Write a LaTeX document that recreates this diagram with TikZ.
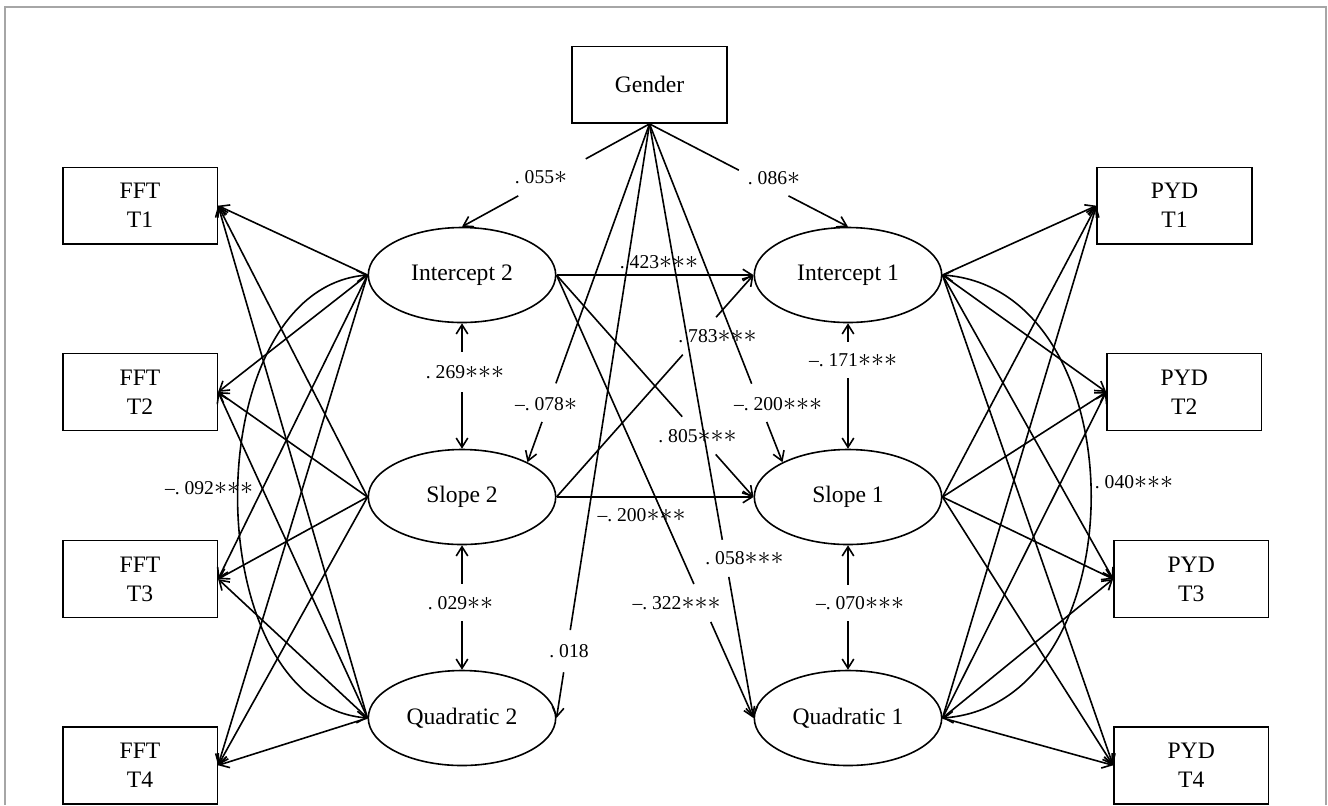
\documentclass[tikz,border=0pt]{standalone}
\usepackage{fontspec}
\setmainfont{Liberation Serif}
\usetikzlibrary{arrows.meta,calc,shapes.geometric}
\newcommand\sgst{\scalebox{1.3}{$\mathord{\ast}$}}
\tikzset{
  arr/.style={-{Straight Barb[length=4.6pt,width=5.8pt]}},
  rarr/.style={{Straight Barb[length=4.6pt,width=5.8pt]}-},
  darr/.style={{Straight Barb[length=4.6pt,width=5.8pt]}-{Straight Barb[length=4.6pt,width=5.8pt]}},
  obs/.style={draw, rectangle, minimum width=77.3pt, minimum height=38.4pt, inner sep=0pt,
    align=center, font=\fontsize{11.8}{14.5}\selectfont},
  lat/.style={draw, ellipse, minimum width=93.7pt, minimum height=47.5pt, inner sep=0pt,
    font=\fontsize{11.8}{14.5}\selectfont},
  lbl/.style={inner sep=0pt, font=\fontsize{9.8}{11}\selectfont},
}
\begin{document}
\begin{tikzpicture}[x=0.5pt,y=-0.5pt,line width=0.8pt]
\useasboundingbox (0,0) rectangle (1328,805);
\fill[white] (0,0) rectangle (1328,805);
\draw[black!35, line width=0.75pt] (5,805) -- (5,7) -- (1326,7) -- (1326,805);

% observed
\node[obs] (gender) at (649.5,84.7) {Gender};
\node[obs] (fft1) at (140,205.7) {FFT\\T1};
\node[obs] (fft2) at (140,392) {FFT\\T2};
\node[obs] (fft3) at (140,579) {FFT\\T3};
\node[obs] (fft4) at (140,765.3) {FFT\\T4};
\node[obs] (pyd1) at (1174.5,205.7) {PYD\\T1};
\node[obs] (pyd2) at (1184.3,392) {PYD\\T2};
\node[obs] (pyd3) at (1191.2,579) {PYD\\T3};
\node[obs] (pyd4) at (1191.2,765.3) {PYD\\T4};

% latent
\node[lat] (int2) at (462,275) {Intercept 2};
\node[lat] (slope2) at (462,497) {Slope 2};
\node[lat] (quad2) at (462,718) {Quadratic 2};
\node[lat] (int1) at (848,275) {Intercept 1};
\node[lat] (slope1) at (848,497) {Slope 1};
\node[lat] (quad1) at (848,718) {Quadratic 1};

% loadings
\foreach \s in {int2,slope2,quad2}
  \foreach \t in {fft1,fft2,fft3,fft4}
    \draw[arr] (\s.west) -- (\t.east);
\foreach \s in {int1,slope1,quad1}
  \foreach \t in {pyd1,pyd2,pyd3,pyd4}
    \draw[arr] (\s.east) -- (\t.west);

% covariance arcs
\draw[darr] (int2.west) .. controls (195,290) and (195,703) .. (quad2.west);
\draw[darr] (int1.east) .. controls (1140,290) and (1140,703) .. (quad1.east);
\node[lbl] (l092) at (209,488) {–.\ 092\sgst\sgst\sgst};
\node[lbl] (l040) at (1134,482) {.\ 040\sgst\sgst\sgst};

% labels
\node[lbl] (l055) at (541,177) {.\ 055\sgst};
\node[lbl] (l086) at (774,178) {.\ 086\sgst};
\node[lbl] (l078) at (546,404) {–.\ 078\sgst};
\node[lbl] (l200a) at (778,404) {–.\ 200\sgst\sgst\sgst};
\node[lbl] (l058) at (744.5,558) {.\ 058\sgst\sgst\sgst};
\node[lbl] (l018) at (569,651) {.\ 018};
\node[lbl] (l805) at (697.5,436) {.\ 805\sgst\sgst\sgst};
\node[lbl] (l322) at (676.5,603) {–.\ 322\sgst\sgst\sgst};
\node[lbl] (l783) at (717.5,336) {.\ 783\sgst\sgst\sgst};
\node[lbl] (l423) at (659,262) {.\ 423\sgst\sgst\sgst};
\node[lbl] (l200b) at (641.5,515) {–.\ 200\sgst\sgst\sgst};
\node[lbl] (l269) at (465,372) {.\ 269\sgst\sgst\sgst};
\node[lbl] (l029) at (460.5,603) {.\ 029\sgst\sgst};
\node[lbl] (l171) at (853,360) {–.\ 171\sgst\sgst\sgst};
\node[lbl] (l070) at (860,603) {–.\ 070\sgst\sgst\sgst};

% gender paths
\draw (gender.south) -- ($(gender.south)!0.34!(int2.north)$);
\draw[arr] ($(gender.south)!0.70!(int2.north)$) -- (int2.north);
\draw (gender.south) -- ($(gender.south)!0.45!(int1.north)$);
\draw[arr] ($(gender.south)!0.70!(int1.north)$) -- (int1.north);
\draw (gender.south) -- ($(gender.south)!0.767!(slope2.28)$);
\draw[arr] ($(gender.south)!0.881!(slope2.28)$) -- (slope2.28);
\draw (gender.south) -- ($(gender.south)!0.768!(slope1.152)$);
\draw[arr] ($(gender.south)!0.881!(slope1.152)$) -- (slope1.152);
\draw (gender.south) -- ($(gender.south)!0.70!(quad1.west)$);
\draw[arr] ($(gender.south)!0.7625!(quad1.west)$) -- (quad1.west);
\draw (gender.south) -- ($(gender.south)!0.852!(quad2.east)$);
\draw[arr] ($(gender.south)!0.923!(quad2.east)$) -- (quad2.east);

% cross-lagged / structural paths
\draw[arr] (int2.east) -- (int1.west);
\draw[arr] (slope2.east) -- (slope1.west);
\draw (int2.east) -- ($(int2.east)!0.638!(slope1.west)$);
\draw[arr] ($(int2.east)!0.808!(slope1.west)$) -- (slope1.west);
\draw (int2.east) -- ($(int2.east)!0.6975!(quad1.west)$);
\draw[arr] ($(int2.east)!0.783!(quad1.west)$) -- (quad1.west);
\draw (slope2.east) -- ($(slope2.east)!0.641!(int1.west)$);
\draw[arr] ($(slope2.east)!0.81!(int1.west)$) -- (int1.west);

% within-process covariances
\draw[rarr] (int2.south) -- ($(int2.south)!0.23!(slope2.north)$);
\draw[arr] ($(int2.south)!0.55!(slope2.north)$) -- (slope2.north);
\draw[rarr] (slope2.south) -- ($(slope2.south)!0.312!(quad2.north)$);
\draw[arr] ($(slope2.south)!0.61!(quad2.north)$) -- (quad2.north);
\draw[rarr] (int1.south) -- ($(int1.south)!0.148!(slope1.north)$);
\draw[arr] ($(int1.south)!0.44!(slope1.north)$) -- (slope1.north);
\draw[rarr] (slope1.south) -- ($(slope1.south)!0.32!(quad1.north)$);
\draw[arr] ($(slope1.south)!0.61!(quad1.north)$) -- (quad1.north);
\end{tikzpicture}
\end{document}
